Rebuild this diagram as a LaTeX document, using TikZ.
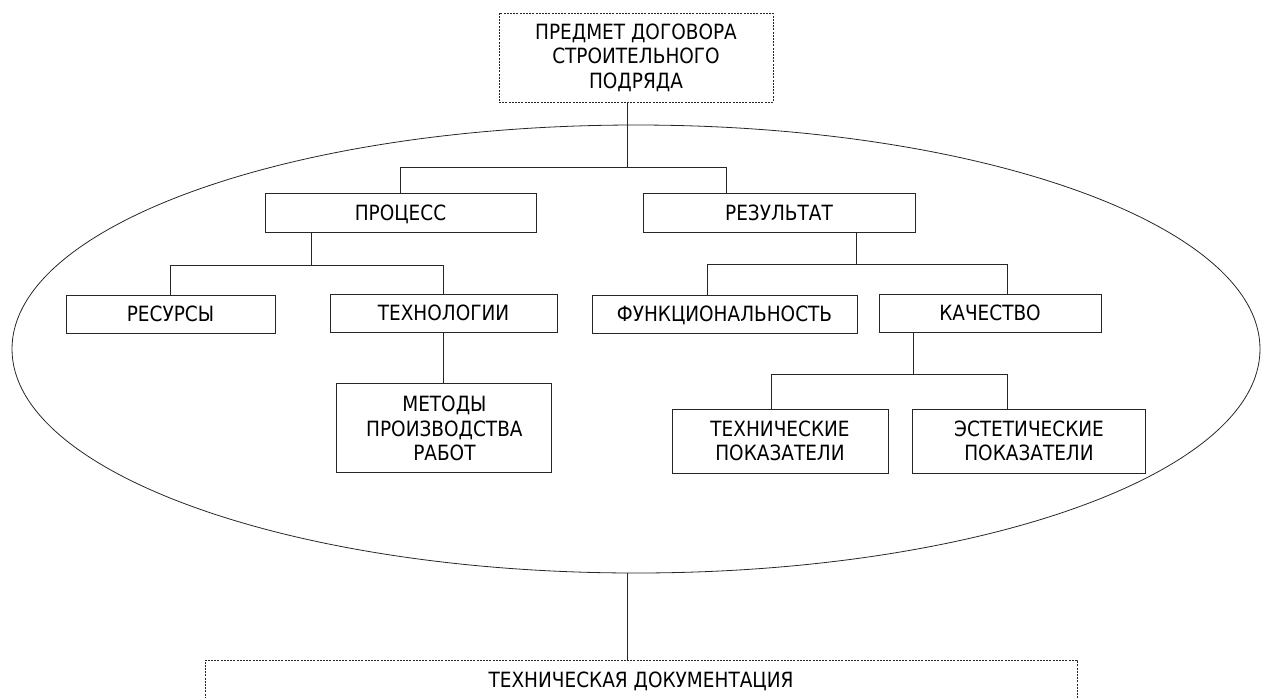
\documentclass[tikz,border=0pt]{standalone}
\usepackage{fontspec}
\setmainfont{DejaVu Sans}[FakeStretch=0.88]
\usetikzlibrary{shapes.geometric}
\begin{document}
\begin{tikzpicture}[x=1pt,y=-1pt,
  every node/.style={inner sep=0pt, outer sep=0pt, text=black,
    font=\fontsize{21}{24.5}\selectfont},
  box/.style={draw=black!85, line width=1pt, rectangle, align=center},
  oneline/.style={box, text height=15.3pt, text depth=0pt},
  dashbox/.style={box, line width=0.9pt, dash pattern=on 2pt off 1.2pt},
  link/.style={draw=black!85, line width=1pt},
]
\useasboundingbox (0,0) rectangle (1263,697);

% enclosing oval
\node[ellipse, draw=black!85, line width=0.8pt,
      minimum width=1248pt, minimum height=448pt] (frame) at (636,349) {};

% boxes
\node[dashbox, minimum width=274pt, minimum height=89pt] (subject) at (636,57.5)
  {ПРЕДМЕТ ДОГОВОРА\\СТРОИТЕЛЬНОГО\\ПОДРЯДА};
\node[oneline, minimum width=271pt, minimum height=39pt] (process) at (400.5,212.5) {ПРОЦЕСС};
\node[oneline, minimum width=272pt, minimum height=39pt] (result) at (779,212.5) {РЕЗУЛЬТАТ};
\node[oneline, minimum width=209pt, minimum height=38pt] (resources) at (170.5,314) {РЕСУРСЫ};
\node[oneline, minimum width=227pt, minimum height=38pt] (technology) at (443.5,313) {ТЕХНОЛОГИИ};
\node[box, minimum width=215pt, minimum height=89pt] (methods) at (444.4,428.4)
  {МЕТОДЫ\\ПРОИЗВОДСТВА\\РАБОТ};
\node[oneline, minimum width=265pt, minimum height=38pt] (function) at (724.5,314) {ФУНКЦИОНАЛЬНОСТЬ};
\node[oneline, minimum width=222pt, minimum height=38pt] (quality) at (990,313) {КАЧЕСТВО};
\node[box, minimum width=216pt, minimum height=64pt] (techind) at (780,441)
  {ТЕХНИЧЕСКИЕ\\ПОКАЗАТЕЛИ};
\node[box, minimum width=233pt, minimum height=64pt] (aesthind) at (1029,441)
  {ЭСТЕТИЧЕСКИЕ\\ПОКАЗАТЕЛИ};
\node[dashbox, text height=15.3pt, text depth=0pt,
      minimum width=872pt, minimum height=40pt] (docs) at (641,680)
  {ТЕХНИЧЕСКАЯ ДОКУМЕНТАЦИЯ};

% junction points of the connectors
\coordinate (trunk) at (627,167);
\coordinate (rdrop) at (726,167);
\coordinate (pbus)  at (311,265);
\coordinate (rbus)  at (856,264.5);
\coordinate (fdrop) at (707,264.5);
\coordinate (qdrop) at (1007,264.5);
\coordinate (qbus)  at (913,374);
\coordinate (tdrop) at (771,374);
\coordinate (edrop) at (1007,374);
\coordinate (base)  at (627,573);

% connectors
\draw[link] (subject.south -| trunk) -- (trunk);
\draw[link] (process.north) |- (rdrop) -- (rdrop |- result.north);
\draw[link] (pbus |- process.south) -- (pbus);
\draw[link] (resources.north) |- (technology.north |- pbus) -- (technology.north);
\draw[link] (technology.south) -- (technology.south |- methods.north);
\draw[link] (rbus |- result.south) -- (rbus);
\draw[link] (fdrop |- function.north) -- (fdrop) -- (qdrop) -- (qdrop |- quality.north);
\draw[link] (qbus |- quality.south) -- (qbus);
\draw[link] (tdrop |- techind.north) -- (tdrop) -- (edrop) -- (edrop |- aesthind.north);
\draw[link] (frame.south -| base) -- (base |- docs.north);
\end{tikzpicture}
\end{document}
